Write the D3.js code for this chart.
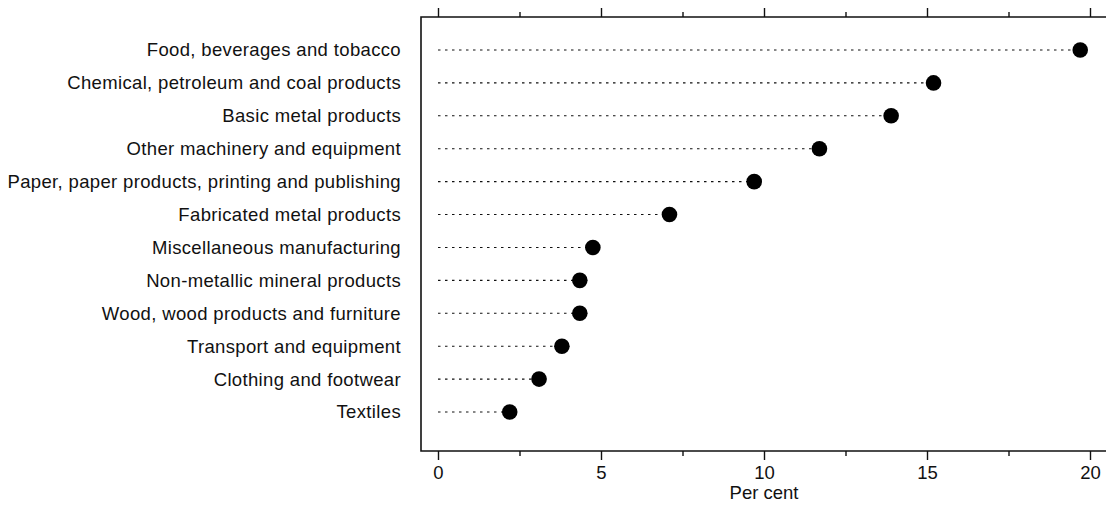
<!DOCTYPE html>
<html>
<head>
<meta charset="utf-8">
<script src="https://cdn.jsdelivr.net/npm/d3@7"></script>
<style>
  html, body { margin: 0; padding: 0; background: #fff; }
  svg { display: block; }
  text { font-family: "Liberation Sans", Arial, Helvetica, sans-serif; fill: #111; }
</style>
</head>
<body>
<svg id="chart" width="1106" height="507"></svg>
<script>
// Industry shares, in per cent, ordered from largest to smallest
const industries = [
  "Food, beverages and tobacco",
  "Chemical, petroleum and coal products",
  "Basic metal products",
  "Other machinery and equipment",
  "Paper, paper products, printing and publishing",
  "Fabricated metal products",
  "Miscellaneous manufacturing",
  "Non-metallic mineral products",
  "Wood, wood products and furniture",
  "Transport and equipment",
  "Clothing and footwear",
  "Textiles"
];
const shares = [19.7, 15.2, 13.9, 11.7, 9.7, 7.1, 4.75, 4.35, 4.35, 3.8, 3.1, 2.2];
const majorTicks = [0, 5, 10, 15, 20];
const minorTicks = [2.5, 7.5, 12.5, 17.5];
const xTitle = "Per cent";

const svg = d3.select("#chart");

const frame = { left: 421, top: 17, bottom: 451, right: 1106 };

const x = d3.scaleLinear().domain([0, 20]).range([438, 1090]);
const y = d3.scalePoint().domain(industries).range([50, 412]);

const ink = "#111";
const labelSize = 18.5;

// Frame: left, top and bottom rules
svg.append("path")
  .attr("d", `M${frame.right},${frame.top}H${frame.left}V${frame.bottom}H${frame.right}`)
  .attr("fill", "none").attr("stroke", ink).attr("stroke-width", 1.6);

// Bottom axis with long major and short minor ticks; top axis mirrors it without labels
const bottomMajor = d3.axisBottom(x).tickValues(majorTicks).tickSize(9).tickPadding(6).tickFormat(d3.format("d"));
const bottomMinor = d3.axisBottom(x).tickValues(minorTicks).tickSize(5).tickFormat("");
const topMajor = d3.axisTop(x).tickValues(majorTicks).tickSize(9).tickFormat("");
const topMinor = d3.axisTop(x).tickValues(minorTicks).tickSize(5).tickFormat("");

function styleAxis(g) {
  g.select(".domain").remove();
  g.selectAll(".tick line").attr("stroke", ink).attr("stroke-width", 1.4);
  g.selectAll(".tick text").attr("font-size", labelSize).attr("fill", ink)
    .style("font-family", '"Liberation Sans", Arial, sans-serif');
}

svg.append("g").attr("transform", `translate(0,${frame.bottom})`).call(bottomMajor).call(styleAxis);
svg.append("g").attr("transform", `translate(0,${frame.bottom})`).call(bottomMinor).call(styleAxis);
svg.append("g").attr("transform", `translate(0,${frame.top})`).call(topMajor).call(styleAxis);
svg.append("g").attr("transform", `translate(0,${frame.top})`).call(topMinor).call(styleAxis);

svg.append("text")
  .attr("x", x(10)).attr("y", 499)
  .attr("text-anchor", "middle").attr("font-size", labelSize)
  .text(xTitle);

// Category labels
svg.append("g").selectAll("text")
  .data(industries)
  .join("text")
  .attr("x", 401)
  .attr("y", d => y(d))
  .attr("dy", "0.35em")
  .attr("text-anchor", "end")
  .attr("font-size", labelSize)
  .attr("letter-spacing", 0.35)
  .text(d => d);

const rows = industries.map((name, i) => ({ name, value: shares[i] }));

// Dotted leaders from zero to each value
svg.append("g").selectAll("line")
  .data(rows)
  .join("line")
  .attr("x1", x(0))
  .attr("x2", d => x(d.value))
  .attr("y1", d => y(d.name))
  .attr("y2", d => y(d.name))
  .attr("stroke", ink)
  .attr("stroke-width", 1.1)
  .attr("stroke-dasharray", "2.5,4.5");

// Value markers
svg.append("g").selectAll("circle")
  .data(rows)
  .join("circle")
  .attr("cx", d => x(d.value))
  .attr("cy", d => y(d.name))
  .attr("r", 7.8)
  .attr("fill", "#000");
</script>
</body>
</html>
